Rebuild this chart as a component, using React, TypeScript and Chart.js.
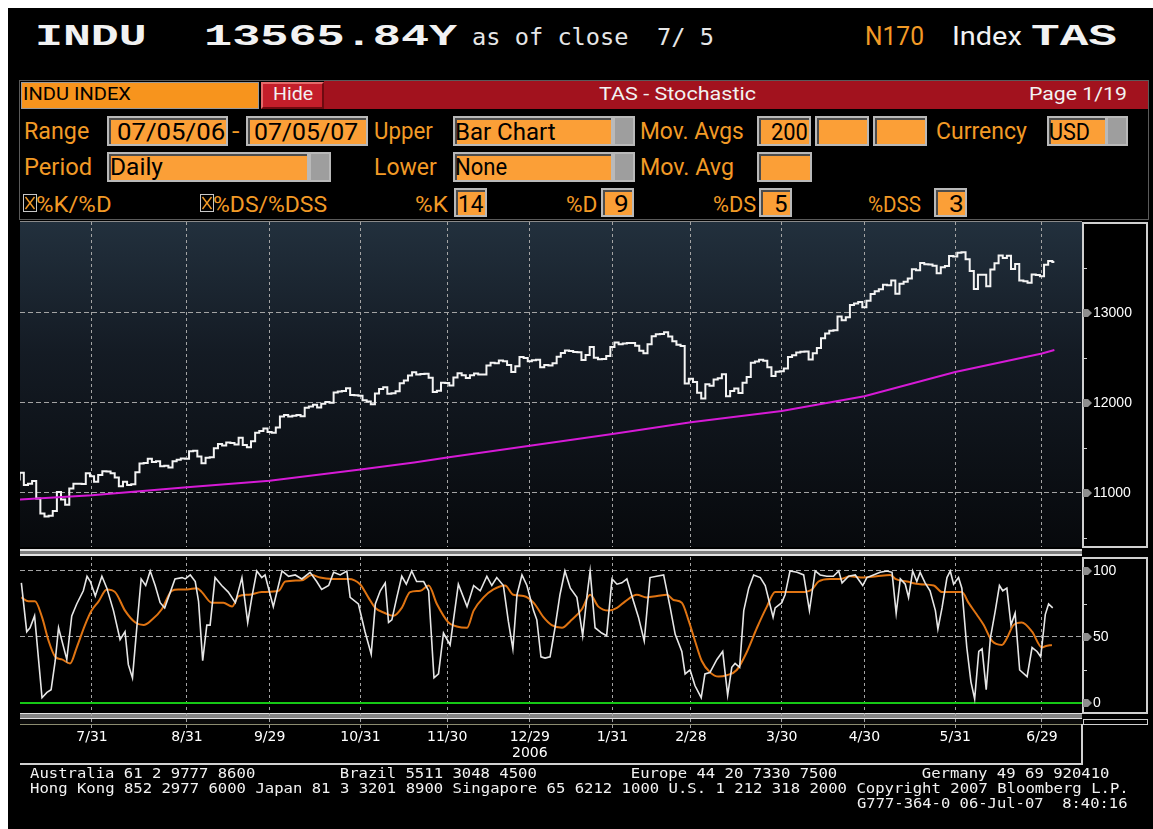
import React, { useEffect, useRef } from 'react';
import { Chart, registerables } from 'chart.js';
Chart.register(...registerables);

// ---------- DATA ----------
// trading-day index of the date labels on the x axis
const xTickIdx = [18, 41, 61, 83, 104, 124, 144, 163, 185, 205, 227, 248];
const xTickLabels: (string | string[])[] = ['7/31', '8/31', '9/29', '10/31', '11/30', ['12/29', '2006'], '1/31', '2/28', '3/30', '4/30', '5/31', '6/29'];

// daily closes, 07/05/06 .. 07/05/07 (index 0 .. 251)
const closes = [
  11151, 11225, 11090, 11103, 11134, 10938, 10772, 10739, 10747, 10799, 11011, 10928, 10869, 11051, 11103, 11102, 11100, 11219, 11185,
  11125, 11199, 11242, 11240, 11220, 11173, 11076, 11124, 11088, 11097, 11230, 11327, 11334, 11381, 11345, 11352, 11297, 11304, 11284, 11352, 11369, 11382, 11381,
  11464, 11469, 11406, 11331, 11392, 11397, 11498, 11544, 11528, 11560, 11555, 11540, 11613, 11534, 11508, 11575, 11669, 11689, 11718, 11679,
  11670, 11727, 11850, 11866, 11851, 11857, 11867, 11852, 11947, 11960, 11980, 11950, 11992, 12011, 12002, 12116, 12127, 12134, 12163, 12090, 12086, 12081,
  12031, 12018, 11986, 12105, 12156, 12176, 12103, 12108, 12131, 12218, 12251, 12305, 12342, 12316, 12321, 12326, 12280, 12121, 12136, 12226, 12221,
  12194, 12283, 12331, 12309, 12278, 12307, 12328, 12316, 12317, 12416, 12446, 12441, 12471, 12463, 12421, 12343, 12407, 12510, 12501, 12463,
  12474, 12480, 12398, 12423, 12416, 12442, 12514, 12556, 12582, 12577, 12567, 12565, 12477, 12534, 12621, 12502, 12487, 12490, 12523, 12622,
  12673, 12653, 12661, 12666, 12667, 12637, 12580, 12552, 12654, 12741, 12765, 12767, 12786, 12738, 12686, 12647, 12633, 12216, 12269,
  12234, 12114, 12050, 12207, 12192, 12260, 12276, 12318, 12075, 12133, 12160, 12110, 12226, 12288, 12447, 12461, 12481, 12470, 12397, 12300, 12348, 12354,
  12383, 12511, 12530, 12560, 12569, 12573, 12484, 12553, 12612, 12720, 12773, 12803, 12808, 12962, 12920, 12953, 13089, 13105, 13121, 13063,
  13136, 13211, 13241, 13265, 13313, 13309, 13362, 13215, 13326, 13347, 13383, 13487, 13476, 13556, 13542, 13539, 13524, 13441, 13507, 13521, 13633, 13627,
  13668, 13676, 13596, 13467, 13267, 13424, 13425, 13296, 13483, 13553, 13639, 13612, 13635, 13489, 13545, 13360, 13352, 13337, 13427, 13422, 13409,
  13535, 13577, 13566,
];

// 200-day moving average, read at these day indices
const maIdx = [0, 18, 41, 61, 83, 96, 104, 124, 144, 163, 185, 205, 227, 248, 251];
const maVal = [10925, 10975, 11065, 11135, 11260, 11340, 11395, 11525, 11655, 11785, 11910, 12075, 12345, 12550, 12588];

// stochastic %K (white) as [day index, value]
const stochK: [number, number][] = [
  [0.9, 91], [2.2, 54], [3.0, 57], [4.1, 66], [5.9, 4], [7.1, 8], [8.1, 10], [9.1, 32], [9.9, 57], [11.9, 33],
  [13.1, 66], [14.3, 75], [15.9, 85], [16.8, 96], [17.6, 92], [18.8, 81], [20.4, 96], [21.6, 87], [23.2, 70], [24.8, 48],
  [26.0, 54], [26.8, 29], [27.8, 19], [28.9, 59], [29.9, 94], [31.0, 89], [32.1, 100], [33.3, 89], [34.5, 76], [35.6, 72],
  [36.5, 80], [38.1, 94], [39.8, 95], [40.6, 94], [41.8, 97], [43.0, 92], [43.8, 77], [44.8, 32], [45.8, 59], [46.6, 59],
  [47.8, 95], [49.4, 89], [51.0, 84], [52.7, 76], [54.3, 95], [55.7, 61], [56.7, 80], [57.9, 100], [59.1, 95], [59.9, 97],
  [61.9, 73], [64.0, 100], [65.6, 96], [67.2, 97], [68.8, 94], [70.8, 99], [72.4, 92], [73.6, 86], [75.3, 89], [76.5, 99],
  [78.1, 97], [79.7, 100], [80.5, 80], [82.5, 75], [84.1, 54], [85.6, 37],
  [86.6, 75], [87.8, 85], [89.0, 91], [89.8, 61], [90.6, 63], [91.8, 80], [93.0, 96], [94.1, 90], [95.4, 100], [96.6, 92],
  [98.3, 92], [99.5, 85], [100.8, 19], [101.9, 22], [103.1, 53], [104.7, 44], [106.7, 90], [108.8, 73], [110.4, 89], [112.0, 85],
  [113.6, 96], [114.8, 89], [116.0, 95], [117.6, 89], [118.8, 62], [119.9, 41], [120.9, 82], [122.1, 97], [123.3, 89], [124.9, 70],
  [125.7, 63], [126.7, 35], [127.7, 34], [128.9, 35], [130.1, 57], [131.3, 82], [132.5, 100], [133.8, 87], [135.4, 80], [136.8, 51],
  [137.8, 80], [138.6, 100], [139.8, 57], [141.4, 53], [142.6, 51], [143.9, 94], [145.1, 90], [146.3, 91], [147.5, 94], [149.1, 77],
  [150.3, 65], [151.7, 47], [153.1, 95], [154.7, 96], [156.4, 97], [158.0, 72], [159.2, 52], [160.8, 39], [161.6, 22], [162.8, 25],
  [164.0, 13], [165.5, 4], [166.4, 22], [167.6, 23], [169.3, 33], [170.7, 39], [171.9, 6], [172.9, 27], [173.7, 30], [174.8, 27],
  [175.8, 70], [177.0, 87], [178.2, 97], [179.8, 95], [181.0, 89], [182.9, 65], [183.4, 72], [185.0, 76], [185.8, 82], [187.0, 100],
  [188.7, 99], [190.3, 97], [191.7, 70], [193.1, 100], [194.3, 97], [195.9, 96], [197.5, 96], [198.8, 100], [199.6, 91], [201.2, 96],
  [202.8, 97], [204.6, 89], [205.6, 95], [207.2, 97], [208.8, 99], [210.5, 100], [211.7, 99], [212.7, 68], [213.7, 94], [214.9, 90],
  [215.7, 80], [216.7, 100], [217.7, 92], [218.5, 99], [219.7, 91], [220.9, 85], [222.2, 70], [222.8, 56], [223.8, 72], [225.0, 95],
  [225.8, 100], [226.6, 90], [227.8, 95], [228.6, 87], [229.8, 42], [230.8, 16], [231.7, 3], [232.7, 39], [233.5, 41], [234.5, 10],
  [235.5, 49], [236.7, 70], [237.7, 89], [238.5, 85], [239.5, 87], [240.5, 59], [241.5, 68], [242.6, 25], [244.4, 20], [245.6, 42],
  [246.8, 39], [247.7, 35], [248.8, 67], [249.6, 75], [250.6, 72],
];

// stochastic %D (orange) as [day index, value]
const stochD: [number, number][] = [
  [0.9, 80], [2.6, 77], [4.2, 77], [5.9, 65], [7.5, 47], [9.1, 35], [10.7, 33], [12.7, 30], [14.3, 42], [16.3, 59],
  [17.9, 70], [19.6, 77], [21.6, 86], [23.6, 84], [26.0, 70], [28.5, 61], [30.5, 59], [32.5, 63], [34.9, 71], [37.3, 85],
  [38.9, 86], [41.0, 86], [43.4, 87], [44.6, 84], [47.0, 76], [49.8, 76], [51.9, 73], [53.5, 81], [55.9, 82], [59.1, 84],
  [63.2, 85], [64.8, 92], [68.8, 93], [71.2, 97], [73.2, 95], [76.1, 94], [80.1, 94], [82.9, 90], [84.9, 80], [86.6, 72],
  [89.0, 68], [91.0, 66], [93.0, 72], [95.0, 84], [97.5, 85], [99.5, 89], [101.5, 75], [104.3, 61], [106.3, 58], [108.8, 57],
  [110.4, 70], [112.8, 80], [115.2, 86], [118.0, 89], [120.0, 82], [122.5, 81], [124.9, 76], [127.3, 65], [129.3, 59], [131.8, 57],
  [133.8, 62], [136.6, 71], [138.6, 82], [140.6, 73], [143.1, 70], [145.1, 72], [147.1, 77], [149.9, 82], [152.3, 80], [154.8, 81],
  [157.2, 82], [158.8, 78], [160.8, 76], [162.4, 63], [164.0, 47], [165.6, 32], [167.7, 23], [169.7, 20], [171.7, 21],
  [174.1, 25], [176.6, 39], [179.0, 57], [181.4, 73], [183.4, 84], [186.2, 84], [189.9, 84], [192.3, 86], [193.9, 92], [196.7, 94],
  [199.2, 94], [201.6, 96], [204.8, 95], [208.0, 96], [211.3, 97], [212.5, 94], [215.3, 92], [218.5, 90], [221.8, 89], [223.8, 84],
  [226.6, 84], [228.6, 84], [230.2, 76], [232.2, 67], [233.9, 59], [235.9, 47], [238.3, 44], [239.5, 49], [241.1, 59], [243.1, 61],
  [245.6, 54], [248.0, 42], [248.8, 43], [250.4, 44],
];

const priceMajorTicks = [11000, 12000, 13000];
const priceMinorTicks = [10500, 11500, 12500, 13500];
const stochMajorTicks = [0, 50, 100];
const stochMinorTicks = [25, 75];

// ---------- STYLE ----------
const X_MIN = 0.57;
const X_MAX = 257.69;
const P_MIN = 10400;
const P_MAX = 14011;
const S_MIN = -7.6;
const S_MAX = 110.6;
const GRID = '#a4a4a4';
const ORANGE = '#f29a26';
const BOX = '#fb9f37';
const WHITE = '#f2f2f2';

let _mctx: CanvasRenderingContext2D | null = null;
function mctx() {
  if (!_mctx) _mctx = document.createElement('canvas').getContext('2d');
  return _mctx!;
}

function T({ x, base, w, text, size, family = 'Roboto', weight = 400, color = ORANGE }: any) {
  const font = `${weight} ${size}px "${family}"`;
  const c = mctx();
  c.font = font;
  const m = c.measureText(text);
  const abl = m.actualBoundingBoxLeft;
  const ink = m.actualBoundingBoxLeft + m.actualBoundingBoxRight;
  const sx = w && ink > 0 ? w / ink : 1;
  const asc = (m as any).fontBoundingBoxAscent ?? size * 0.92;
  const desc = (m as any).fontBoundingBoxDescent ?? size * 0.24;
  const off = (size + asc - desc) / 2;
  return (
    <div style={{ position: 'absolute', left: x + abl * sx, top: base - off, font, lineHeight: size + 'px', color, whiteSpace: 'pre', transform: `scaleX(${sx})`, transformOrigin: '0 0' }}>{text}</div>
  );
}

function Box({ x, y, w, h, fill = BOX }: any) {
  return <div style={{ position: 'absolute', left: x, top: y, width: w, height: h, background: fill, boxSizing: 'border-box', border: '2px solid #b9b9b9', boxShadow: 'inset 2px 2px 0 #4c4c4c' }} />;
}
function Drop({ x, y, w, h }: any) {
  return <div style={{ position: 'absolute', left: x, top: y, width: w, height: h, background: '#9e9e9e', boxSizing: 'border-box', border: '2px solid #b9b9b9' }} />;
}
function Check({ x, y }: any) {
  return (
    <svg style={{ position: 'absolute', left: x, top: y }} width={14} height={18}>
      <rect x={0.5} y={0.5} width={13} height={17} fill="none" stroke="#c8c8c8" />
      <line x1={2.5} y1={3} x2={11.5} y2={15} stroke={ORANGE} strokeWidth={1.4} />
      <line x1={11.5} y1={3} x2={2.5} y2={15} stroke={ORANGE} strokeWidth={1.4} />
    </svg>
  );
}

function axisMarks(major: number[], minor: number[]) {
  return {
    id: 'axisMarks',
    afterDraw(chart: any) {
      const { ctx, chartArea } = chart;
      const y = chart.scales.y;
      const r = chartArea.right;
      ctx.save();
      ctx.fillStyle = '#8e8e8e';
      major.forEach((v) => {
        const py = Math.round(y.getPixelForValue(v));
        ctx.beginPath();
        ctx.moveTo(r + 1, py - 4);
        ctx.lineTo(r + 6, py - 4);
        ctx.lineTo(r + 10, py);
        ctx.lineTo(r + 6, py + 4);
        ctx.lineTo(r + 1, py + 4);
        ctx.closePath();
        ctx.fill();
      });
      ctx.strokeStyle = '#cfcfcf';
      ctx.lineWidth = 1;
      minor.forEach((v) => {
        const py = Math.round(y.getPixelForValue(v)) + 0.5;
        ctx.beginPath();
        ctx.moveTo(r + 1, py);
        ctx.lineTo(r + 5, py);
        ctx.stroke();
      });
      ctx.restore();
    },
  };
}

const zeroLine = {
  id: 'zeroLine',
  beforeDatasetsDraw(chart: any) {
    const { ctx, chartArea } = chart;
    const py = chart.scales.y.getPixelForValue(0);
    ctx.save();
    ctx.strokeStyle = '#16c816';
    ctx.lineWidth = 2;
    ctx.beginPath();
    ctx.moveTo(chartArea.left, py);
    ctx.lineTo(chartArea.right, py);
    ctx.stroke();
    ctx.restore();
  },
};

function PriceChart() {
  const ref = useRef<HTMLCanvasElement>(null);
  useEffect(() => {
    const all = [...priceMajorTicks, ...priceMinorTicks].sort((a, b) => a - b);
    const chart = new Chart(ref.current!, {
      type: 'line',
      data: {
        datasets: [
          { data: maIdx.map((x, i) => ({ x, y: maVal[i] })), borderColor: '#d61ad6', borderWidth: 2, pointRadius: 0 },
          { data: closes.map((y, i) => ({ x: i, y })), borderColor: '#f4f4f4', borderWidth: 2, pointRadius: 0, stepped: 'middle' },
        ],
      },
      options: {
        responsive: false, animation: false, devicePixelRatio: 1, events: [],
        layout: { padding: 0 },
        plugins: { legend: { display: false }, tooltip: { enabled: false } },
        scales: {
          x: {
            type: 'linear', min: X_MIN, max: X_MAX,
            afterBuildTicks: (s: any) => { s.ticks = xTickIdx.map((v) => ({ value: v })); },
            afterFit: (s: any) => { s.height = 0; s.paddingLeft = 0; s.paddingRight = 0; },
            ticks: { display: false },
            grid: { color: GRID, drawTicks: false, lineWidth: 1 },
            border: { display: false, dash: [3, 3] },
          },
          y: {
            type: 'linear', position: 'right', min: P_MIN, max: P_MAX,
            afterBuildTicks: (s: any) => { s.ticks = all.map((v) => ({ value: v })); },
            afterFit: (s: any) => { s.width = 66; s.paddingTop = 0; s.paddingBottom = 0; },
            ticks: { color: '#ffffff', font: { family: 'Liberation Sans', size: 14 }, padding: 11, callback: (v: any) => (priceMajorTicks.includes(v) ? String(v) : '') },
            grid: { color: (c: any) => (c.tick && priceMajorTicks.includes(c.tick.value) ? GRID : 'rgba(0,0,0,0)'), drawTicks: false },
            border: { display: false, dash: [5, 3] },
          },
        },
      },
      plugins: [axisMarks(priceMajorTicks, priceMinorTicks)],
    } as any);
    return () => chart.destroy();
  }, []);
  return <canvas ref={ref} width={1128} height={325} style={{ position: 'absolute', left: 20, top: 222 }} />;
}

function StochChart() {
  const ref = useRef<HTMLCanvasElement>(null);
  useEffect(() => {
    const all = [...stochMajorTicks, ...stochMinorTicks].sort((a, b) => a - b);
    const chart = new Chart(ref.current!, {
      type: 'line',
      data: {
        datasets: [
          { data: stochK.map(([x, y]) => ({ x, y })), borderColor: '#e6e6e6', borderWidth: 1.6, pointRadius: 0 },
          { data: stochD.map(([x, y]) => ({ x, y })), borderColor: '#e07412', borderWidth: 2, pointRadius: 0, cubicInterpolationMode: 'monotone', tension: 0.3 },
        ],
      },
      options: {
        responsive: false, animation: false, devicePixelRatio: 1, events: [],
        layout: { padding: 0 },
        plugins: { legend: { display: false }, tooltip: { enabled: false } },
        scales: {
          x: {
            type: 'linear', min: X_MIN, max: X_MAX,
            afterBuildTicks: (s: any) => { s.ticks = xTickIdx.map((v) => ({ value: v })); },
            afterFit: (s: any) => { s.height = 48; s.paddingLeft = 0; s.paddingRight = 0; },
            ticks: { color: '#ffffff', font: { family: 'DejaVu Sans', size: 14, lineHeight: 1.1 }, padding: 1, autoSkip: false, maxRotation: 0, callback: (_v: any, i: number) => xTickLabels[i] },
            grid: { color: GRID, drawTicks: true, tickLength: 16, tickColor: GRID, tickBorderDash: [3, 3], lineWidth: 1 },
            border: { display: false, dash: [3, 3] },
          },
          y: {
            type: 'linear', position: 'right', min: S_MIN, max: S_MAX,
            afterBuildTicks: (s: any) => { s.ticks = all.map((v) => ({ value: v })); },
            afterFit: (s: any) => { s.width = 66; s.paddingTop = 0; s.paddingBottom = 0; },
            ticks: { color: '#ffffff', font: { family: 'Liberation Sans', size: 14 }, padding: 11, callback: (v: any) => (stochMajorTicks.includes(v) ? String(v) : '') },
            grid: { color: (c: any) => (c.tick && (c.tick.value === 50 || c.tick.value === 100) ? GRID : 'rgba(0,0,0,0)'), drawTicks: false },
            border: { display: false, dash: [5, 3] },
          },
        },
      },
      plugins: [zeroLine, axisMarks(stochMajorTicks, stochMinorTicks)],
    } as any);
    return () => chart.destroy();
  }, []);
  return <canvas ref={ref} width={1128} height={204} style={{ position: 'absolute', left: 20, top: 557 }} />;
}

export default function App() {
  const abs = (s: any) => ({ position: 'absolute', ...s });
  return (
    <div style={{ position: 'absolute', left: 0, top: 0, width: 1153, height: 829, background: '#ffffff', overflow: 'hidden' }}>
      <div style={abs({ left: 8, top: 8, width: 1145, height: 821, background: '#000' })} />

      {/* header */}
      <T x={38} base={45} w={107} text="INDU" size={30} family="Liberation Mono" weight={700} color={WHITE} />
      <T x={207} base={45} w={250} text="13565.84Y" size={30} family="Liberation Mono" weight={700} color={WHITE} />
      <T x={473} base={45} w={239} text="as of close  7/ 5" size={23} family="DejaVu Sans Mono" color="#e6e6e6" />
      <T x={867} base={45} w={56} text="N170" size={25} color={ORANGE} />
      <T x={954} base={45} w={67} text="Index" size={25} color={WHITE} />
      <T x={1031} base={45} w={86} text="TAS" size={30} family="Liberation Mono" weight={700} color={WHITE} />

      {/* panel frame */}
      <div style={abs({ left: 19, top: 80, width: 1130, height: 140, boxSizing: 'border-box', border: '1px solid #5a5a5a' })} />

      {/* row 1 */}
      <div style={abs({ left: 21, top: 82, width: 238, height: 27, background: '#f7941d', boxSizing: 'border-box', border: '1px solid #9a9a9a' })} />
      <T x={24} base={100} w={107} text="INDU INDEX" size={19} color="#000" />
      <div style={abs({ left: 261, top: 82, width: 63, height: 27, background: '#c41e2a', boxSizing: 'border-box', border: '2px solid', borderColor: '#e46a6a #6e0a10 #6e0a10 #e46a6a' })} />
      <T x={274} base={100} w={39} text="Hide" size={19} color={WHITE} />
      <div style={abs({ left: 324, top: 81, width: 824, height: 28, background: '#a2121e' })} />
      <T x={599} base={100} w={157} text="TAS - Stochastic" size={19} color={WHITE} />
      <T x={1030} base={100} w={96} text="Page 1/19" size={19} color={WHITE} />

      {/* row 2 */}
      <T x={25} base={139} w={64} text="Range" size={23} />
      <Box x={107} y={116} w={121} h={30} />
      <T x={118} base={140} w={106} text="07/05/06" size={23} color="#000" />
      <T x={232} base={139} w={7} text="-" size={23} />
      <Box x={246} y={116} w={122} h={30} />
      <T x={255} base={140} w={102} text="07/05/07" size={23} color="#000" />
      <T x={375} base={139} w={58} text="Upper" size={23} />
      <Box x={453} y={116} w={160} h={30} />
      <Drop x={613} y={116} w={22} h={30} />
      <T x={456} base={140} w={99} text="Bar Chart" size={23} color="#000" />
      <T x={641} base={139} w={102} text="Mov. Avgs" size={23} />
      <Box x={757} y={116} w={54} h={30} />
      <T x={772} base={140} w={35} text="200" size={23} color="#000" />
      <Box x={815} y={116} w={54} h={30} />
      <Box x={873} y={116} w={54} h={30} />
      <T x={937} base={139} w={90} text="Currency" size={23} />
      <Box x={1047} y={116} w={60} h={30} />
      <Drop x={1106} y={116} w={22} h={30} />
      <T x={1050} base={140} w={39} text="USD" size={23} color="#000" />

      {/* row 3 */}
      <T x={25} base={175} w={66} text="Period" size={23} />
      <Box x={107} y={152} w={202} h={30} />
      <Drop x={309} y={152} w={22} h={30} />
      <T x={111} base={175} w={52} text="Daily" size={23} color="#000" />
      <T x={375} base={175} w={62} text="Lower" size={23} />
      <Box x={453} y={152} w={160} h={30} />
      <Drop x={613} y={152} w={22} h={30} />
      <T x={456} base={175} w={51} text="None" size={23} color="#000" />
      <T x={641} base={175} w={92} text="Mov. Avg" size={23} />
      <Box x={757} y={152} w={55} h={30} />

      {/* row 4 */}
      <Check x={23} y={194} />
      <T x={37} base={212} w={74} text="%K/%D" size={22} />
      <Check x={200} y={194} />
      <T x={214} base={212} w={113} text="%DS/%DSS" size={22} />
      <T x={416} base={212} w={32} text="%K" size={22} />
      <Box x={454} y={188} w={33} h={29} />
      <T x={460} base={212} w={23} text="14" size={24} color="#000" />
      <T x={567} base={212} w={30} text="%D" size={22} />
      <Box x={601} y={188} w={33} h={29} />
      <T x={615} base={212} w={12} text="9" size={24} color="#000" />
      <T x={714} base={212} w={42} text="%DS" size={22} />
      <Box x={759} y={188} w={33} h={29} />
      <T x={775} base={212} w={12} text="5" size={24} color="#000" />
      <T x={869} base={212} w={52} text="%DSS" size={22} />
      <Box x={934} y={188} w={33} h={29} />
      <T x={950} base={212} w={12} text="3" size={24} color="#000" />

      {/* price panel background + axis box */}
      <div style={abs({ left: 20, top: 221, width: 1062, height: 326, background: 'linear-gradient(to bottom, #22303d 0%, #141b24 40%, #07090c 100%)', borderTop: '1px solid #8a8a8a', boxSizing: 'border-box' })} />
      <div style={abs({ left: 1082, top: 222, width: 66, height: 326, boxSizing: 'border-box', border: '2px solid #d0d0d0', background: '#000' })} />
      <PriceChart />

      {/* separator between panels */}
      <div style={abs({ left: 20, top: 549, width: 1062, height: 7, boxSizing: 'border-box', borderTop: '2px solid #e2e2e2', borderBottom: '2px solid #e2e2e2', background: '#7c7c7c' })} />

      {/* stochastic axis box */}
      <div style={abs({ left: 1082, top: 557, width: 66, height: 157, boxSizing: 'border-box', border: '2px solid #d0d0d0', background: '#000' })} />
      {/* strip under stochastic */}
      <div style={abs({ left: 20, top: 713, width: 1062, height: 6, boxSizing: 'border-box', borderTop: '1px solid #e0e0e0', borderBottom: '1px solid #e0e0e0', background: '#858585' })} />
      <div style={abs({ left: 20, top: 719, width: 1062, height: 6, boxSizing: 'border-box', borderBottom: '1px solid #8c8c70', background: '#0a0a0a' })} />
      <div style={abs({ left: 1083, top: 719, width: 65, height: 6, boxSizing: 'border-box', border: '1px solid #d0d0d0' })} />
      <StochChart />

      {/* frame under the axis labels */}
      <div style={abs({ left: 1081, top: 724, width: 2, height: 41, background: '#d0d0d0' })} />
      <div style={abs({ left: 20, top: 763, width: 1063, height: 2, background: '#d0d0d0' })} />

      {/* footer */}
      <T x={30} base={778} w={1079} text="Australia 61 2 9777 8600         Brazil 5511 3048 4500          Europe 44 20 7330 7500         Germany 49 69 920410" size={14} family="DejaVu Sans Mono" color={WHITE} />
      <T x={30} base={793} w={1096} text="Hong Kong 852 2977 6000 Japan 81 3 3201 8900 Singapore 65 6212 1000 U.S. 1 212 318 2000 Copyright 2007 Bloomberg L.P." size={14} family="DejaVu Sans Mono" color={WHITE} />
      <T x={857} base={808} w={270} text="G777-364-0 06-Jul-07  8:40:16" size={14} family="DejaVu Sans Mono" color={WHITE} />
    </div>
  );
}
